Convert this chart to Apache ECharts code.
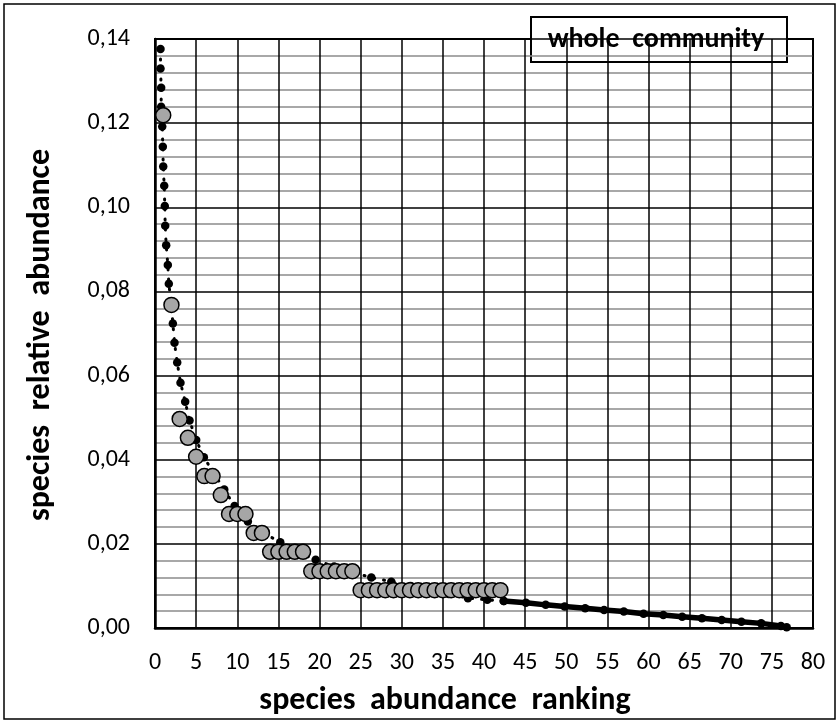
<!DOCTYPE html>
<html>
<head>
<meta charset="utf-8">
<title>whole community</title>
<script src="https://cdn.jsdelivr.net/npm/echarts@6/dist/echarts.min.js"></script>
<style>
  html, body { margin: 0; padding: 0; background: #fff; }
  #chart { width: 839px; height: 723px; }
</style>
</head>
<body>
<div id="chart"></div>
<script>
// observed species (grey circles)
var obsRank = [1, 2, 3, 4, 5, 6, 7, 8, 9, 10, 11, 12, 13, 14, 15, 16, 17, 18, 19, 20, 21,
  22, 23, 24, 25, 26, 27, 28, 29, 30, 31, 32, 33, 34, 35, 36, 37, 38, 39, 40, 41, 42];
var obsValue = [0.1219, 0.0768, 0.0497, 0.0452, 0.0407, 0.0361, 0.0361, 0.0316, 0.0271, 0.0271,
  0.0271, 0.0226, 0.0226, 0.0181, 0.0181, 0.0181, 0.0181, 0.0181, 0.0135, 0.0135, 0.0135,
  0.0135, 0.0135, 0.0135, 0.0090, 0.0090, 0.0090, 0.0090, 0.0090, 0.0090, 0.0090, 0.0090,
  0.0090, 0.0090, 0.0090, 0.0090, 0.0090, 0.0090, 0.0090, 0.0090, 0.0090, 0.0090];

// fitted curve, dotted part (black dots)
var fitRankHead = [0.67, 0.67, 0.75, 0.75, 0.88, 0.95, 1.0, 1.12, 1.19, 1.24, 1.36, 1.56, 1.68,
  1.97, 2.17, 2.37, 2.70, 3.10, 3.67, 4.20, 5.01, 5.94, 7.18, 8.42, 9.67, 11.29, 13.14, 15.23,
  17.34, 19.53, 21.78, 24.03, 26.3, 28.73, 31.06, 33.4, 35.7, 38.05, 40.4, 42.4];
var fitValueHead = [0.1376, 0.1330, 0.1284, 0.1239, 0.1192, 0.1144, 0.1097, 0.1051, 0.1003,
  0.0956, 0.0910, 0.0863, 0.0818, 0.0770, 0.0724, 0.0678, 0.0631, 0.0583, 0.0538, 0.0493,
  0.0447, 0.0406, 0.0367, 0.0329, 0.0290, 0.0253, 0.0226, 0.0204, 0.0181, 0.0162, 0.0146,
  0.0132, 0.0120, 0.0110, 0.0100, 0.0090, 0.0081, 0.0071, 0.0067, 0.0064];

// fitted curve, tail (thick solid)
var fitRankTail = [42.4, 45.1, 47.5, 49.8, 52.3, 54.6, 57.0, 59.4, 61.8, 64.1, 66.5, 68.9,
  71.3, 73.7, 76.1, 76.8];
var fitValueTail = [0.0064, 0.0060, 0.0055, 0.0051, 0.0047, 0.0043, 0.0039, 0.0034, 0.0031,
  0.0027, 0.0023, 0.0019, 0.0015, 0.0011, 0.0005, 0.0002];

var FONT = "Carlito, 'Liberation Sans Narrow', 'DejaVu Sans Condensed', 'Open Sans', sans-serif";

function zip(xs, ys) {
  return xs.map(function (x, i) { return [x, ys[i]]; });
}

var chart = echarts.init(document.getElementById('chart'));
chart.setOption({
  animation: false,
  backgroundColor: '#fff',
  grid: {
    left: 155, top: 39, width: 658, height: 589,
    show: true, borderColor: '#000', borderWidth: 2
  },
  xAxis: {
    type: 'value', min: 0, max: 80, interval: 5,
    axisLine: { lineStyle: { color: '#000', width: 2.5 } },
    axisTick: { show: false },
    axisLabel: { margin: 23, fontFamily: FONT, fontSize: 24, color: '#000' },
    splitLine: { lineStyle: { color: '#000', width: 1.5 } }
  },
  yAxis: {
    type: 'value', min: 0, max: 0.14, interval: 0.02,
    axisLine: { lineStyle: { color: '#000', width: 2.5 } },
    axisTick: { show: false },
    minorTick: { show: false, splitNumber: 5 },
    axisLabel: {
      margin: 25, fontFamily: FONT, fontSize: 24, color: '#000',
      formatter: function (v) { return v.toFixed(2).replace('.', ','); }
    },
    splitLine: { lineStyle: { color: '#000', width: 1.5 } },
    minorSplitLine: { show: true, lineStyle: { color: '#8c8c8c', width: 1.5 } }
  },
  graphic: [
    {
      type: 'rect', z: 100, silent: true,
      shape: { x: 4, y: 4, width: 831, height: 715 },
      style: { fill: 'none', stroke: '#000', lineWidth: 1.5 }
    },
    {
      type: 'text', z: 100, x: 445, y: 701,
      style: {
        text: 'species  abundance  ranking', fill: '#000',
        font: 'bold 32px ' + FONT, align: 'center', verticalAlign: 'middle'
      }
    },
    {
      type: 'text', z: 100, x: 41, y: 335, rotation: Math.PI / 2,
      style: {
        text: 'species  relative  abundance', fill: '#000',
        font: 'bold 32px ' + FONT, align: 'center', verticalAlign: 'middle'
      }
    },
    {
      type: 'group', z: 100,
      children: [
        {
          type: 'rect',
          shape: { x: 531, y: 17, width: 256, height: 45 },
          style: { fill: '#fff', stroke: '#000', lineWidth: 2 }
        },
        {
          type: 'text', x: 656, y: 40,
          style: {
            text: 'whole  community', fill: '#000',
            font: 'bold 28px ' + FONT, align: 'center', verticalAlign: 'middle'
          }
        }
      ]
    }
  ],
  series: [
    {
      name: 'fit', type: 'line', z: 2,
      data: zip(fitRankHead, fitValueHead),
      symbol: 'circle', symbolSize: 8.5,
      itemStyle: { color: '#000' },
      lineStyle: { color: '#000', width: 3, type: [1, 9], cap: 'round' }
    },
    {
      name: 'fit tail', type: 'line', z: 2,
      data: zip(fitRankTail, fitValueTail),
      symbol: 'circle', symbolSize: 8.5,
      itemStyle: { color: '#000' },
      lineStyle: { color: '#000', width: 5.5, cap: 'round' }
    },
    {
      name: 'observed', type: 'scatter', z: 3,
      data: zip(obsRank, obsValue),
      symbol: 'circle', symbolSize: 15,
      itemStyle: { color: '#a6a6a6', borderColor: '#000', borderWidth: 1.5, opacity: 1 }
    }
  ]
});
</script>
</body>
</html>
